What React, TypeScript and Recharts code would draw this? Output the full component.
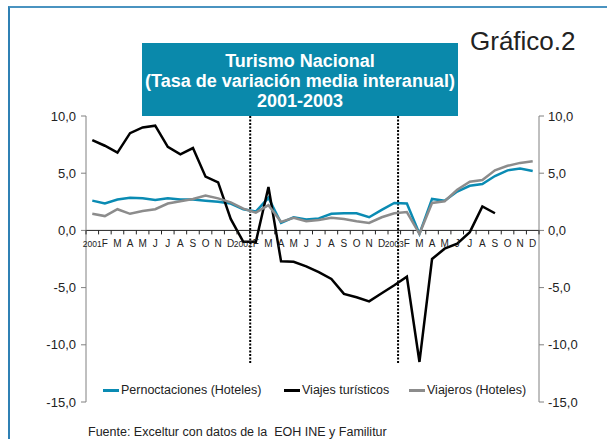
import { LineChart, Line, XAxis, YAxis, ReferenceLine, ReferenceDot } from 'recharts'

const months = [
  '2001', 'F', 'M', 'A', 'M', 'J', 'J', 'A', 'S', 'O', 'N', 'D',
  '2002', 'F', 'M', 'A', 'M', 'J', 'J', 'A', 'S', 'O', 'N', 'D',
  '2003', 'F', 'M', 'A', 'M', 'J', 'J', 'A', 'S', 'O', 'N', 'D',
]

const pernoctaciones = [
  2.6, 2.35, 2.7, 2.85, 2.8, 2.65, 2.8, 2.7, 2.7, 2.6, 2.5, 2.35,
  1.85, 1.65, 2.85, 0.65, 1.15, 0.95, 1.05, 1.45, 1.5, 1.5, 1.15, 1.8,
  2.4, 2.35, -0.3, 2.75, 2.6, 3.4, 3.9, 4.05, 4.75, 5.25, 5.4, 5.2,
]

const viajesTuristicos = [
  7.9, 7.4, 6.8, 8.5, 9.0, 9.15, 7.3, 6.65, 7.2, 4.7, 4.2, 1.0,
  -1.0, -1.0, 3.8, -2.7, -2.75, -3.15, -3.65, -4.25, -5.55, -5.85, -6.2, -5.5,
  -4.8, -4.05, -11.5, -2.5, -1.6, -1.15, -0.15, 2.1, 1.5, null, null, null,
]

const viajeros = [
  1.45, 1.25, 1.85, 1.45, 1.7, 1.85, 2.35, 2.55, 2.75, 3.05, 2.8, 2.45,
  1.9, 1.55, 2.2, 0.75, 1.1, 0.8, 0.9, 1.1, 1.0, 0.8, 0.65, 1.15,
  1.5, 1.6, -0.3, 2.4, 2.55, 3.55, 4.25, 4.4, 5.25, 5.65, 5.9, 6.05,
]

const yTicks = [-15, -10, -5, 0, 5, 10]
// year separators, in month-index units
const yearDividers = [12.55, 24.3]

// both axes share the same scale; the gray series sits on the right one
const series = [
  { key: 'pern', name: 'Pernoctaciones (Hoteles)', color: '#0a8bb3', slot: 181, axis: 'left' },
  { key: 'viajes', name: 'Viajes turísticos', color: '#000000', slot: 125, axis: 'left' },
  { key: 'viajeros', name: 'Viajeros (Hoteles)', color: '#8c8c8c', slot: 140, axis: 'right' },
]

const data = months.map((m, i) => ({
  i,
  m,
  pern: pernoctaciones[i],
  viajes: viajesTuristicos[i],
  viajeros: viajeros[i],
}))

const boundaries = Array.from({ length: months.length + 1 }, (_, k) => k - 0.5)

const fmt = (v: number) => v.toFixed(1).replace('.', ',')

const FONT = '"Liberation Sans", Arial, sans-serif'

export default function App() {
  return (
    <div
      style={{
        position: 'absolute',
        left: 0,
        top: 0,
        width: 607,
        height: 439,
        background: '#fff',
        fontFamily: FONT,
        overflow: 'hidden',
      }}
    >
      <div
        style={{
          position: 'absolute',
          left: 8,
          top: 6,
          right: -4,
          bottom: -4,
          borderTop: '2px solid #4a93c0',
          borderLeft: '2px solid #2f80b4',
        }}
      />

      <LineChart
        width={607}
        height={439}
        data={data}
        margin={{ top: 116, right: 0, bottom: 37, left: 0 }}
        style={{ position: 'absolute', left: 0, top: 0 }}
      >
        <XAxis dataKey="i" type="number" domain={[-0.5, 35.5]} hide />
        <YAxis
          yAxisId="left"
          domain={[-15, 10]}
          ticks={yTicks}
          width={86}
          tickFormatter={fmt}
          tick={{ fontSize: 13, fill: '#222' }}
          tickSize={5}
          tickMargin={5}
          axisLine={{ stroke: '#808080' }}
          tickLine={{ stroke: '#808080' }}
        />
        <YAxis
          yAxisId="right"
          orientation="right"
          domain={[-15, 10]}
          ticks={yTicks}
          width={68}
          tickFormatter={fmt}
          tick={{ fontSize: 13, fill: '#222' }}
          tickSize={5}
          tickMargin={4}
          axisLine={{ stroke: '#808080' }}
          tickLine={{ stroke: '#808080' }}
        />

        <ReferenceLine yAxisId="left" y={0} stroke="#222" strokeWidth={1} />

        {boundaries.map((b) => (
          <ReferenceDot
            key={'t' + b}
            yAxisId="left"
            x={b}
            y={0}
            r={0}
            ifOverflow="visible"
            shape={(p: any) => (
              <line x1={p.cx} x2={p.cx} y1={p.cy} y2={p.cy + 4} stroke="#222" strokeWidth={1} />
            )}
          />
        ))}
        {months.map((m, i) => (
          <ReferenceDot
            key={'l' + i}
            yAxisId="left"
            x={i}
            y={0}
            r={0}
            ifOverflow="visible"
            shape={(p: any) => (
              <text
                x={p.cx}
                y={p.cy + 17}
                textAnchor="middle"
                fontSize={m.length > 1 ? 8.5 : 10}
                fill="#222"
              >
                {m}
              </text>
            )}
          />
        ))}

        {yearDividers.map((x) => (
          <ReferenceLine
            key={'d' + x}
            yAxisId="left"
            segment={[{ x, y: 10 }, { x, y: -11.6 }]}
            stroke="#000"
            strokeWidth={2}
            strokeDasharray="2 1.5"
            ifOverflow="visible"
          />
        ))}

        {series.map((s) => (
          <Line
            key={s.key}
            yAxisId={s.axis}
            dataKey={s.key}
            name={s.name}
            stroke={s.color}
            strokeWidth={2.5}
            dot={false}
            type="linear"
            isAnimationActive={false}
          />
        ))}
      </LineChart>

      <div
        style={{
          position: 'absolute',
          left: 142,
          top: 43,
          width: 316,
          height: 73,
          background: '#0a89ab',
          color: '#fff',
          fontWeight: 'bold',
          fontSize: 18,
          lineHeight: '20px',
          textAlign: 'center',
          paddingTop: 8,
          boxSizing: 'border-box',
          whiteSpace: 'nowrap',
        }}
      >
        <div>Turismo Nacional</div>
        <div>(Tasa de variación media interanual)</div>
        <div>2001-2003</div>
      </div>

      <div
        style={{
          position: 'absolute',
          left: 470,
          top: 26,
          fontSize: 26,
          color: '#222',
          lineHeight: '30px',
        }}
      >
        Gráfico.2
      </div>

      <div
        style={{
          position: 'absolute',
          left: 103,
          top: 382,
          display: 'flex',
          alignItems: 'center',
          fontSize: 12.5,
          color: '#222',
          lineHeight: '16px',
        }}
      >
        {series.map((s) => (
          <div key={s.key} style={{ width: s.slot, display: 'flex', alignItems: 'center', whiteSpace: 'nowrap' }}>
            <span style={{ display: 'inline-block', width: 16, height: 3, background: s.color, marginRight: 2 }} />
            <span>{s.name}</span>
          </div>
        ))}
      </div>

      <div
        style={{
          position: 'absolute',
          left: 88,
          top: 424,
          fontSize: 12.5,
          color: '#222',
          whiteSpace: 'pre',
          lineHeight: '16px',
        }}
      >
        Fuente: Exceltur con datos de la  EOH INE y Familitur
      </div>
    </div>
  )
}
